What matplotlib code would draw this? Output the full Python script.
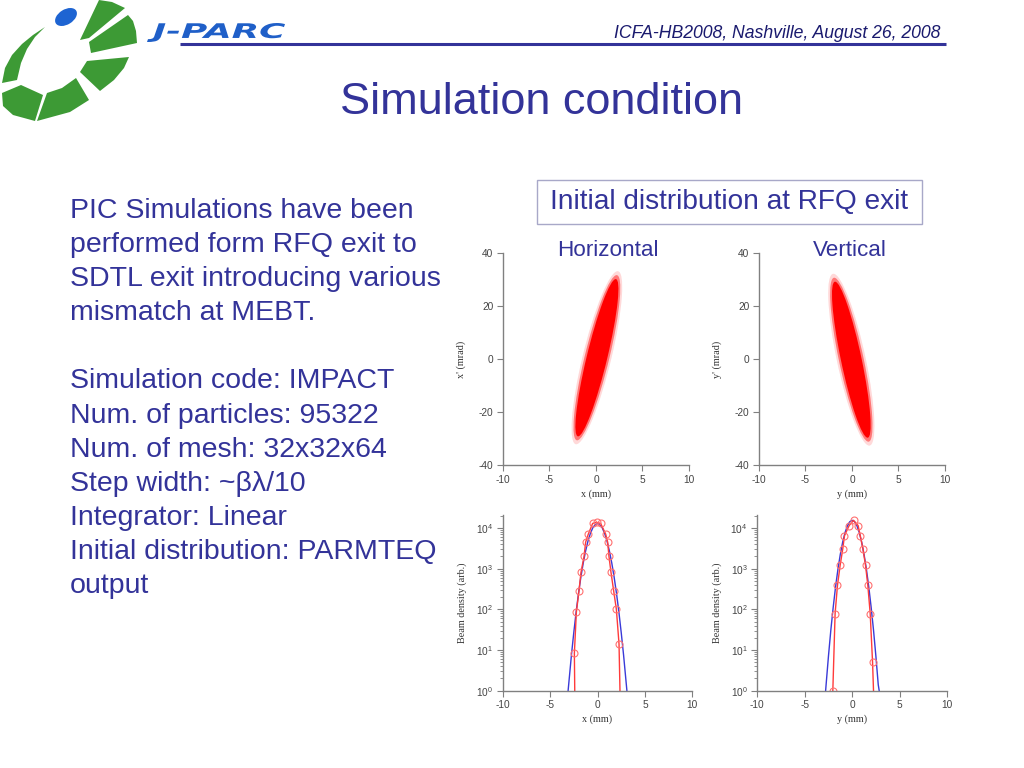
import matplotlib
matplotlib.use("Agg")
import matplotlib.pyplot as plt
from matplotlib.patches import Ellipse, Polygon, Rectangle, PathPatch
from matplotlib.textpath import TextPath
from matplotlib.font_manager import FontProperties
from matplotlib.transforms import Affine2D

plt.rcParams["axes.unicode_minus"] = False
plt.rcParams["font.family"] = ["Liberation Sans", "DejaVu Sans"]

# ---- slide text ----
header = "ICFA-HB2008, Nashville, August 26, 2008"
title = "Simulation condition"
box_text = "Initial distribution at RFQ exit"
left_lines = [
    "PIC Simulations have been",
    "performed form RFQ exit to",
    "SDTL exit introducing various",
    "mismatch at MEBT.",
    "",
    "Simulation code: IMPACT",
    "Num. of particles: 95322",
    "Num. of mesh: 32x32x64",
    "Step width: ~\u03b2\u03bb/10",
    "Integrator: Linear",
    "Initial distribution: PARMTEQ",
    "output",
]

# ---- phase space clouds (ellipse) ----
# center, length along major axis, width, angle (data units)
h_center = (0.1, 0.5)
h_length = 59.5
h_width = 2.25
h_angle = 86.1

v_center = (-0.07, -0.25)
v_length = 59.0
v_width = 2.25
v_angle = -86.6

# ---- beam density profiles ----
prof_x = [-3.1, -2.75, -2.5, -2.25, -2.0, -1.75, -1.5, -1.25, -1.0, -0.75, -0.5, -0.25, 0.0,
          0.25, 0.5, 0.75, 1.0, 1.25, 1.5, 1.75, 2.0, 2.25, 2.5, 2.75, 3.1]
h_blue = [1.0, 7.5, 27, 88, 250, 630, 1400, 2760, 4810, 7400, 10100, 12100, 12900,
          12100, 10100, 7400, 4810, 2760, 1400, 630, 250, 88, 27, 7.5, 1.0]
v_prof_x = [-2.8, -2.75, -2.5, -2.25, -2.0, -1.75, -1.5, -1.25, -1.0, -0.75, -0.5, -0.25, 0.0,
            0.25, 0.5, 0.75, 1.0, 1.25, 1.5, 1.75, 2.0, 2.25, 2.5, 2.75, 2.85]
v_blue = [1.0, 1.4, 7.1, 31, 113, 360, 975, 2270, 4530, 7760, 11400, 14350, 15500,
          14350, 11400, 7760, 4530, 2270, 975, 360, 113, 31, 7.1, 1.4, 1.0]

h_red_x = [-2.40, -2.44, -2.23, -1.95, -1.74, -1.42, -1.25, -0.97, -0.51, -0.09, 0.33,
           0.86, 1.07, 1.21, 1.42, 1.70, 1.99, 2.27, 2.37]
h_red_y = [1.0, 8.3, 85, 290, 820, 2000, 4500, 7100, 13000, 13800, 13000,
           7100, 4500, 2000, 820, 290, 100, 14, 1.0]
v_red_x = [-2.04, -1.80, -1.55, -1.27, -0.99, -0.81, -0.32, 0.14, 0.63, 0.85, 1.13,
           1.41, 1.65, 1.90, 2.15, 2.25]
v_red_y = [1.0, 79, 390, 1200, 3100, 6500, 11500, 15500, 11500, 6500, 3100,
           1200, 390, 79, 5, 1.0]

navy = "#333399"
W, H = 1024, 768

fig = plt.figure(figsize=(10.24, 7.68), dpi=100)

# slide decoration layer in pixel coords (y down)
deco = fig.add_axes([0, 0, 1, 1])
deco.set_xlim(0, W)
deco.set_ylim(H, 0)
deco.axis("off")

# logo: green segments (pixel outlines) + blue dot
green = "#3d9a35"
logo_parts = [
    [(99, 0), (112, 2), (125, 8), (89, 38), (80, 40)],
    [(128, 15), (133, 21), (136, 31), (137, 43), (91, 53), (89, 42)],
    [(87, 61), (129, 57), (124, 68), (114, 80), (100, 91), (80, 72)],
    [(47, 93), (62, 88), (76, 78), (89, 100), (70, 112), (37, 121)],
    [(2, 93), (21, 85), (43, 95), (35, 121), (13, 115), (3, 106)],
    [(2, 83), (5, 68), (12, 55), (22, 44), (33, 35), (45, 27),
     (35, 37), (27, 49), (21, 63), (17, 80)],
]
for pts in logo_parts:
    deco.add_patch(Polygon(pts, closed=True, color=green, lw=0))
deco.add_patch(Ellipse((66, 17), 24, 15, angle=-32, color="#1e64d2", lw=0))

# J-PARC lettering, stretched to the logo width
tp = TextPath((0, 0), "J-PARC", size=10,
              prop=FontProperties(family="DejaVu Sans", weight="bold", style="italic"))
ext = tp.get_extents()
sx = 138 / ext.width
sy = 19 / ext.height
deco.add_patch(PathPatch(tp, color="#1f5fc8", lw=0,
                         transform=Affine2D().translate(-ext.x0, -ext.y0).scale(sx, -sy)
                         .translate(147, 42) + deco.transData))
deco.plot([180, 946], [43.5, 43.5], color=navy, lw=2.2, solid_capstyle="butt")
deco.text(940, 33, header, fontsize=12.7, style="italic", color="#1a1a6e",
          ha="right", va="center")

deco.text(542, 103, title, fontsize=32.5, color=navy, ha="center", va="center")

deco.add_patch(Rectangle((537, 180), 385, 44, fill=False, edgecolor="#a8a8c8", lw=1))
deco.text(729.5, 202, box_text, fontsize=20.2, color=navy, ha="center", va="center")
deco.text(608, 250, "Horizontal", fontsize=16.2, color=navy, ha="center", va="center")
deco.text(850, 250, "Vertical", fontsize=16.2, color=navy, ha="center", va="center")

y0 = 211
for i, line in enumerate(left_lines):
    deco.text(70, y0 + i * 34.1, line, fontsize=20.5, color=navy, ha="left", va="center")


def style_axes(ax):
    for s in ["top", "right"]:
        ax.spines[s].set_visible(False)
    for s in ["left", "bottom"]:
        ax.spines[s].set_color("#808080")
        ax.spines[s].set_linewidth(1.0)
    ax.tick_params(direction="out", length=4, width=0.8, color="#808080",
                   labelsize=7.3, labelcolor="#444444", pad=3)
    ax.tick_params(which="minor", direction="out", length=2, width=0.6, color="#808080")
    ax.set_facecolor("none")


serif = {"family": ["Liberation Serif", "DejaVu Serif"], "size": 7.3, "color": "#333333"}

# phase space plots
for left, center, length, width, angle, xl, yl in [
    (0.4912, h_center, h_length, h_width, h_angle, "x (mm)", "x' (mrad)"),
    (0.7412, v_center, v_length, v_width, v_angle, "y (mm)", "y' (mrad)"),
]:
    ax = fig.add_axes([left, 0.3945, 0.1816, 0.276])
    ax.add_patch(Ellipse(center, length + 6, width + 0.9, angle=angle, color="#ff0000", alpha=0.15, lw=0))
    ax.add_patch(Ellipse(center, length + 3, width + 0.45, angle=angle, color="#ff0000", alpha=0.45, lw=0))
    ax.add_patch(Ellipse(center, length, width, angle=angle, color="#ff0000", lw=0))
    ax.set_xlim(-10, 10)
    ax.set_ylim(-40, 40)
    ax.set_xticks([-10, -5, 0, 5, 10])
    ax.set_yticks([-40, -20, 0, 20, 40])
    style_axes(ax)
    ax.set_xlabel(xl, fontdict=serif, labelpad=3)
    ax.set_ylabel(yl, fontdict=serif, labelpad=9)

# density profiles
for left, bx, by, rx, ry, marks, xl in [
    (0.4909, prof_x, h_blue, h_red_x, h_red_y, list(range(1, len(h_red_x) - 1)), "x (mm)"),
    (0.7396, v_prof_x, v_blue, v_red_x, v_red_y, list(range(0, len(v_red_x) - 1)), "y (mm)"),
]:
    ax = fig.add_axes([left, 0.1007, 0.1852, 0.2288])
    ax.plot(bx, by, color="#3a3ad8", lw=1.0)
    ax.plot(rx, ry, color="#ff3b3b", lw=1.0, marker="o", ms=5, mfc="none",
            mec="#ff7070", mew=0.8, markevery=marks)
    ax.set_yscale("log")
    ax.set_xlim(-10, 10)
    ax.set_ylim(1, 2.1e4)
    ax.set_xticks([-10, -5, 0, 5, 10])
    style_axes(ax)
    ax.set_xlabel(xl, fontdict=serif, labelpad=3)
    ax.set_ylabel("Beam density (arb.)", fontdict=serif, labelpad=6)

fig.savefig("out.png", dpi=100)
